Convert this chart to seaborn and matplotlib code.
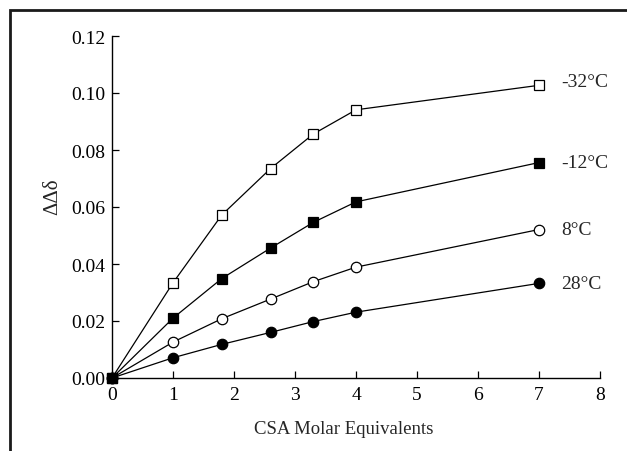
import matplotlib
matplotlib.use("Agg")
import matplotlib.pyplot as plt
import seaborn as sns
from matplotlib.patches import Rectangle

x_vals = [0, 1, 1.8, 2.6, 3.3, 4, 7]
t_m32 = [0, 0.0334, 0.0572, 0.0735, 0.0856, 0.0941, 0.1027]
t_m12 = [0, 0.0210, 0.0349, 0.0456, 0.0546, 0.0618, 0.0756]
t_p8 = [0, 0.0126, 0.0208, 0.0277, 0.0338, 0.0389, 0.0521]
t_p28 = [0, 0.0071, 0.0118, 0.0160, 0.0198, 0.0231, 0.0332]
labels = ["-32°C", "-12°C", "8°C", "28°C"]
xticks = [0, 1, 2, 3, 4, 5, 6, 7, 8]
yticks = [0.00, 0.02, 0.04, 0.06, 0.08, 0.10, 0.12]

sns.set_style("ticks")
plt.rcParams['font.family'] = ['Liberation Serif', 'DejaVu Serif']

fig = plt.figure(figsize=(6.27, 4.52), dpi=100)
ax = fig.add_axes([112/627, 1-379/452, (600-112)/627, (379-37)/452])

series = [
    (t_m32, 's', 'white', labels[0], 3, 3),
    (t_p8, 'o', 'white', labels[2], 3, 0),
    (t_p28, 'o', 'black', labels[3], 3, 0),
    (t_m12, 's', 'black', labels[1], 4, 0),
]
for ys, mk, fc, lab, z, dy in series:
    sns.lineplot(x=x_vals, y=ys, ax=ax, color='black', linewidth=0.9,
                 marker=mk, markersize=7.5, markerfacecolor=fc,
                 markeredgecolor='black', markeredgewidth=0.9, zorder=z,
                 clip_on=False)
    ax.annotate(lab, xy=(x_vals[-1], ys[-1]), xytext=(16, dy),
                textcoords='offset points', ha='left', va='center',
                fontsize=14)

ax.set_xlim(0, 8)
ax.set_ylim(0, 0.12)
ax.set_xticks(xticks)
ax.set_xticklabels([str(v) for v in xticks])
ax.set_yticks(yticks)
ax.set_yticklabels([f"{v:.2f}" for v in yticks])
ax.tick_params(direction='in', length=5, width=0.9, labelsize=14,
               colors='black')
ax.tick_params(axis='x', pad=6)
ax.tick_params(axis='y', pad=5)
for s in ['top', 'right']:
    ax.spines[s].set_visible(False)
for s in ['left', 'bottom']:
    ax.spines[s].set_linewidth(1.0)
    ax.spines[s].set_color('black')

ax.set_xlabel("CSA Molar Equivalents", fontsize=13.5)
ax.xaxis.set_label_coords((344-112)/488, -(430-379)/342)
ax.xaxis.label.set_va('center')
ax.set_ylabel("ΔΔδ", fontsize=15)
ax.yaxis.set_label_coords(-(112-53)/488, (379-197)/342)
ax.yaxis.label.set_va('center')

fig.patches.append(Rectangle((10/627, -0.1), 1.2, 1.1 - 11/452,
                             transform=fig.transFigure, fill=False,
                             edgecolor='#1a1a1a', linewidth=2.0))

fig.savefig("out.png", dpi=100)
